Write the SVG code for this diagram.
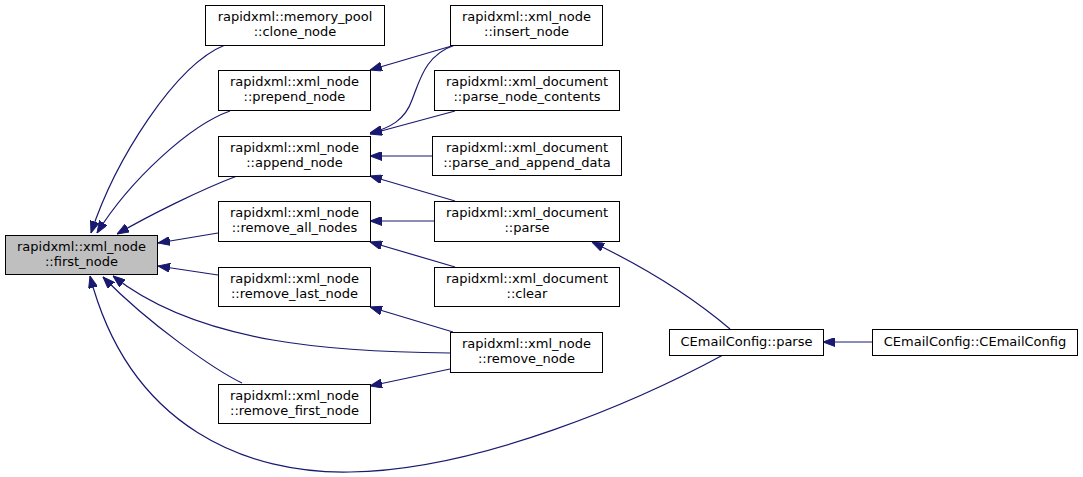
<svg xmlns="http://www.w3.org/2000/svg" width="1083" height="477" viewBox="0 0 1083 477">
<style>
.n rect{fill:#ffffff;stroke:#000000;stroke-width:1}
.n.cur rect{fill:#bfbfbf}
.n text{font-family:"DejaVu Sans","Liberation Sans",sans-serif;font-size:13px;fill:#000000;text-anchor:middle}
.e path{fill:none;stroke:#191970;stroke-width:1.2;marker-end:url(#ah)}
</style>
<defs>
<marker id="ah" markerUnits="userSpaceOnUse" markerWidth="12" markerHeight="9" viewBox="0 0 12 9" refX="12" refY="4.5" orient="auto">
<path d="M0,0 L12,4.5 L0,9 z" fill="#191970" stroke="#191970" stroke-width="1"/>
</marker>
</defs>
<rect width="1083" height="477" fill="#ffffff"/>
<g id="edges" class="e">
<path d="M225,45 C175,65 115,160 91,233"/>
<path d="M230,111 C190,125 130,180 97,233"/>
<path d="M237,176 C200,190 150,215 117,234"/>
<path d="M218,233 L158,243"/>
<path d="M218,275 L158,266"/>
<path d="M450,353 C340,352 200,345 113,276"/>
<path d="M242,383 C215,370 150,325 103,277"/>
<path d="M723,355 C640,400 480,470 350,472 C250,474 130,430 90,276"/>
<path d="M455,45 L370,70"/>
<path d="M455,45 C425,55 420,80 412,100 C405,120 390,128 370,133"/>
<path d="M455,111 L370,134"/>
<path d="M432,156 L370,156"/>
<path d="M455,201 L370,176"/>
<path d="M434,221 L370,221"/>
<path d="M455,267 L370,242"/>
<path d="M453,332 L370,307"/>
<path d="M450,369 L370,386"/>
<path d="M730,329 C690,295 640,265 592,242"/>
<path d="M872,342 L823,342"/>
</g>
<g id="first_node" class="n cur"><rect x="5.5" y="235.5" width="152" height="39"/><text x="81.5" y="251">rapidxml::xml_node</text><text x="81.5" y="266">::first_node</text></g>
<g id="clone_node" class="n"><rect x="205.5" y="5.5" width="179" height="40"/><text x="295" y="21">rapidxml::memory_pool</text><text x="295" y="36">::clone_node</text></g>
<g id="prepend_node" class="n"><rect x="218.5" y="70.5" width="152" height="40"/><text x="294.5" y="86">rapidxml::xml_node</text><text x="294.5" y="101">::prepend_node</text></g>
<g id="append_node" class="n"><rect x="218.5" y="136.5" width="152" height="40"/><text x="294.5" y="152">rapidxml::xml_node</text><text x="294.5" y="167">::append_node</text></g>
<g id="remove_all_nodes" class="n"><rect x="218.5" y="201.5" width="152" height="40"/><text x="294.5" y="217">rapidxml::xml_node</text><text x="294.5" y="232">::remove_all_nodes</text></g>
<g id="remove_last_node" class="n"><rect x="218.5" y="267.5" width="152" height="39"/><text x="294.5" y="283">rapidxml::xml_node</text><text x="294.5" y="298">::remove_last_node</text></g>
<g id="remove_first_node" class="n"><rect x="218.5" y="384.5" width="152" height="39"/><text x="294.5" y="400">rapidxml::xml_node</text><text x="294.5" y="415">::remove_first_node</text></g>
<g id="insert_node" class="n"><rect x="450.5" y="5.5" width="152" height="40"/><text x="526.5" y="21">rapidxml::xml_node</text><text x="526.5" y="36">::insert_node</text></g>
<g id="parse_node_contents" class="n"><rect x="434.5" y="70.5" width="185" height="40"/><text x="527" y="86">rapidxml::xml_document</text><text x="527" y="101">::parse_node_contents</text></g>
<g id="parse_and_append_data" class="n"><rect x="432.5" y="136.5" width="189" height="39"/><text x="527" y="152">rapidxml::xml_document</text><text x="527" y="167">::parse_and_append_data</text></g>
<g id="parse" class="n"><rect x="434.5" y="201.5" width="185" height="40"/><text x="527" y="217">rapidxml::xml_document</text><text x="527" y="232">::parse</text></g>
<g id="clear" class="n"><rect x="434.5" y="267.5" width="185" height="39"/><text x="527" y="283">rapidxml::xml_document</text><text x="527" y="298">::clear</text></g>
<g id="remove_node" class="n"><rect x="450.5" y="332.5" width="152" height="40"/><text x="526.5" y="348">rapidxml::xml_node</text><text x="526.5" y="363">::remove_node</text></g>
<g id="cemail_parse" class="n"><rect x="669.5" y="329.5" width="154" height="26"/><text x="746.5" y="346">CEmailConfig::parse</text></g>
<g id="cemail_ctor" class="n"><rect x="872.5" y="329.5" width="205" height="26"/><text x="975" y="346">CEmailConfig::CEmailConfig</text></g>
</svg>
